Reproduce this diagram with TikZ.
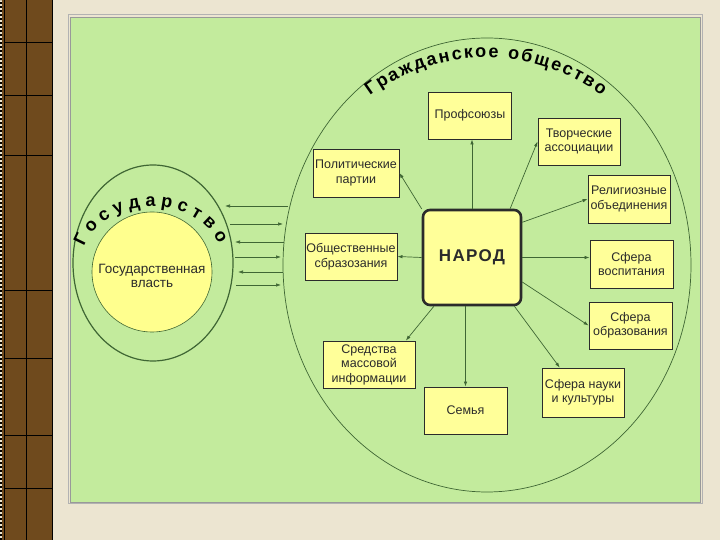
\documentclass[tikz,border=0pt]{standalone}
\usepackage{fontspec}
\setmainfont{Liberation Sans}
\usetikzlibrary{arrows.meta,decorations.text}

\definecolor{paper}{HTML}{ECE5D1}
\definecolor{panel}{HTML}{C3EB9D}
\definecolor{boxfill}{HTML}{FFFF99}
\definecolor{powerfill}{HTML}{FFFF8E}
\definecolor{lineclr}{HTML}{3F6634}
\definecolor{inkclr}{HTML}{2B2B2B}
\definecolor{woodclr}{HTML}{6F4A1D}

\tikzset{
  box/.style={draw=inkclr, line width=0.9pt, fill=boxfill, align=center,
    inner sep=0pt, text=inkclr, font=\fontsize{12.5}{14.5}\selectfont},
  narodbox/.style={draw=inkclr, line width=2.6pt, rounded corners=7pt,
    fill=boxfill, minimum width=98pt, minimum height=95pt, text=inkclr,
    font=\fontsize{17}{19}\selectfont\bfseries\addfontfeature{LetterSpace=8}},
  link/.style={draw=lineclr, line width=0.7pt, -{Latex[length=5pt,width=3.5pt]}},
}

\begin{document}
\begin{tikzpicture}[x=1pt, y=1pt]

\newcommand{\bigrx}{204}
\newcommand{\bigry}{227}
\newcommand{\staterx}{80}
\newcommand{\statery}{98}
\newcommand{\powerradius}{60}

\useasboundingbox (0,0) rectangle (720,540);

% paper and wooden strip
\fill[paper] (0,0) rectangle (720,540);
\fill[woodclr] (2,0) rectangle (52,540);
\draw[black, line width=0.8pt] (4,0) -- (4,540) (52,0) -- (52,540) (26,0) -- (26,540);
\foreach \yy in {498,445,385,250,182,105,52}
  \draw[black, line width=0.6pt] (4,\yy) -- (52,\yy);
\draw[black, line width=1.5pt, dash pattern=on 2pt off 2pt] (1,0) -- (1,540);

% panel
\draw[gray!60, line width=1pt] (68,36) rectangle (702,525);
\draw[fill=panel, draw=gray!80, line width=0.6pt] (70,38) rectangle (700,523);

% civil society
\coordinate (pS) at (487,275);
\draw[lineclr, line width=0.7pt] (pS) ellipse[x radius=\bigrx, y radius=\bigry];
\path[decorate, color=inkclr, decoration={text along path, text align=fit to path,
    text={|\fontsize{18}{18}\selectfont\bfseries|Гражданское общество}}]
  (370,444) arc[start angle=125.4, end angle=54.6, x radius=200, y radius=207];

% state
\coordinate (pG) at (153,277);
\draw[lineclr, line width=1.2pt] (pG) ellipse[x radius=\staterx, y radius=\statery];
\path[decorate, color=inkclr, decoration={text along path, text align=fit to path,
    text={|\fontsize{18}{18}\selectfont\bfseries|Государство}}]
  (84,293) arc[start angle=163.4, end angle=20, x radius=71, y radius=57];
\draw[lineclr, line width=0.6pt, fill=powerfill] (152,268) circle (\powerradius);
\node[text=inkclr, align=center, font=\fontsize{13.5}{14.5}\selectfont] (power) at (152,264)
  {Государственная\\власть};

% links between state and society
\foreach \yy/\xs/\xe in {334/288/225, 316/230/283, 298/284/235, 283/235/281, 268/283/238, 255/236/281}
  \draw[link] (\xs,\yy) -- (\xe,\yy);

% people and institutions
\node[narodbox] (narod) at (472,282.5) {НАРОД};
\node[box, minimum width=83pt, minimum height=47pt] (prof) at (470,424.5) {Профсоюзы};
\node[box, minimum width=82pt, minimum height=47pt] (tvor) at (579,398.5) {Творческие\\ассоциации};
\node[box, minimum width=82pt, minimum height=48pt] (relig) at (629,341) {Религиозные\\объединения};
\node[box, minimum width=83pt, minimum height=48pt] (vosp) at (631.5,276) {Сфера\\воспитания};
\node[box, minimum width=83pt, minimum height=47pt] (obraz) at (630.5,214.5) {Сфера\\образования};
\node[box, minimum width=82pt, minimum height=49pt] (nauka) at (583,147.5) {Сфера науки\\и культуры};
\node[box, minimum width=83pt, minimum height=47pt] (semya) at (465.5,129.5) {Семья};
\node[box, minimum width=92pt, minimum height=47pt] (smi) at (369,175.5) {Средства\\массовой\\информации};
\node[box, minimum width=92pt, minimum height=47pt] (obsch) at (351,283.5) {Общественные\\сбразозания};
\node[box, minimum width=86pt, minimum height=48pt] (polit) at (356,367) {Политические\\партии};

\draw[link] (narod.north) -- (narod.north |- prof.south);
\draw[link] (narod.52) -- (tvor.west);
\draw[link] (narod.35) -- (relig.west);
\draw[link] (narod.east) -- (narod.east -| vosp.west);
\draw[link] (narod.-26) -- (obraz.west);
\draw[link] (narod.-49) -- (nauka.133);
\draw[link] (narod.south -| semya) -- (semya.north);
\draw[link] (narod.232) -- (smi.33);
\draw[link] (narod.west) -- (obsch.east);
\draw[link] (narod.136) -- (polit.east);

\end{tikzpicture}
\end{document}
